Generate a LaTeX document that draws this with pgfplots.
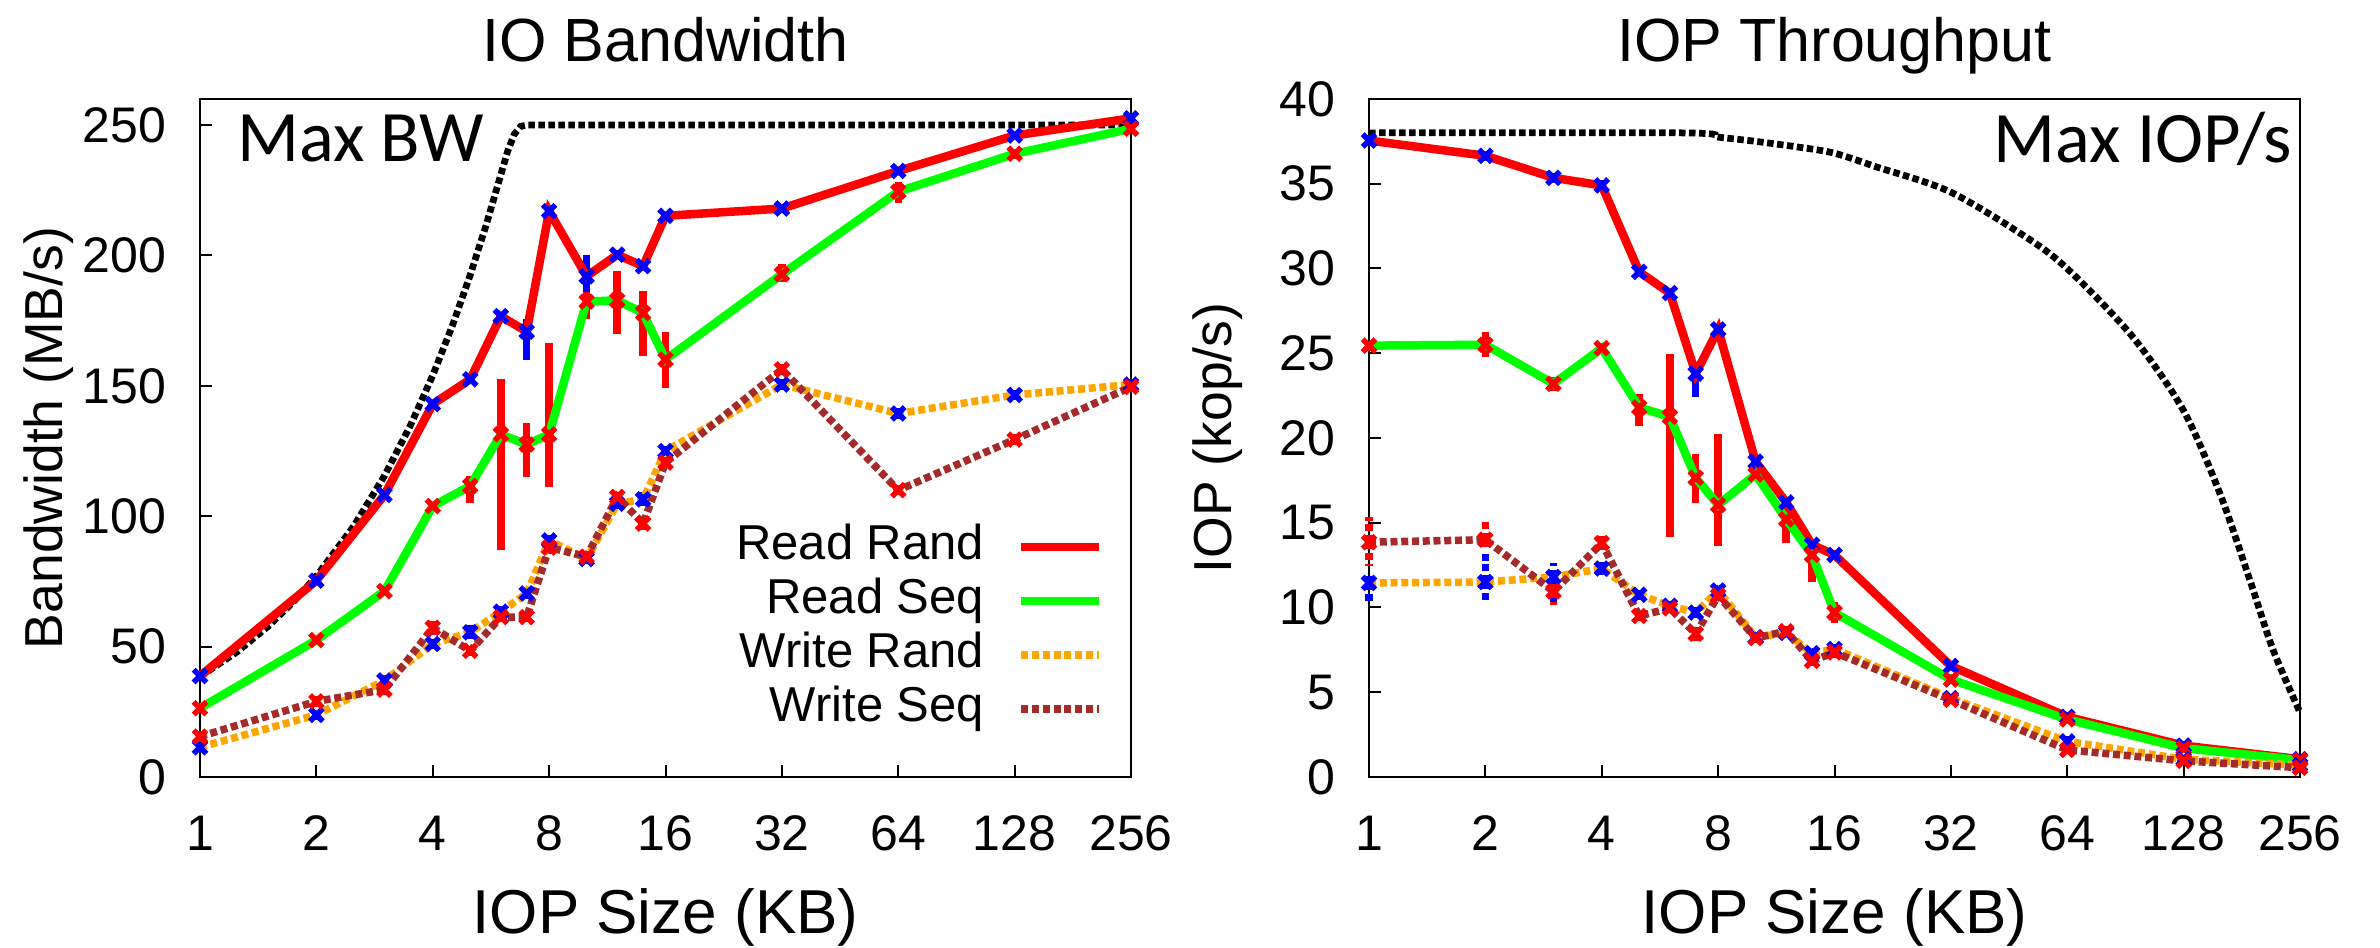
\documentclass[border=0pt]{standalone}
\usepackage{fontspec}
\setmainfont{Liberation Sans}
\newfontfamily\gillfont{Carlito}
\usepackage{pgfplots}
\usepackage{pgfplotstable}
\pgfplotsset{compat=1.18}

\definecolor{wrand}{RGB}{255,165,0}
\definecolor{wseq}{RGB}{165,42,42}

% Bandwidth (MB/s): value, error plus, error minus for each series
\pgfplotstableread{
x   rr    rrp  rrm   rs    rsp  rsm   wr    wrp  wrm   ws    wsp  wsm
1   38.7  1    1     26.4  1    1     11.4  1.5  1.5   15.5  2    2
2   75.3  1    1     52.5  1    1     23.8  2    2     29.0  2    2
3   108.2 1.5  1.5   71.3  1    1     37.0  2    2     33.5  2    2
4   143.0 1.5  1.5   103.9 1.5  1.5   51.0  2    2     57.2  2.5  3
5   152.5 1.5  1.5   111.6 3.7  6.6   55.5  3    3.5   48.4  2    2
6   176.7 1.5  1.5   131.4 21.3 44.4  63.4  2    2     61.3  2    2
7   170.8 4.7  10.7  127.5 8.3  12.5  70.4  2    2     61.3  2    2
8   217.0 1.5  1.5   131.4 35   20    90.7  2    2     88.0  2    2
10  192.0 8    16.5  182.3 3.5  6.7   83.6  2    2     84.5  2    2
12  200.3 1.5  1.5   182.8 11.2 13.1  104.8 2    2     107.4 2    2
14  195.9 2    2     177.9 8.5  16.5  106.5 3    3     97.2  2.5  2.5
16  215.2 1.5  1.5   160.1 10.5 10.9  125.0 2    2     120.6 2    2
32  218.0 1.5  1.5   192.8 4    3     150.5 2    2     156.3 2    2
64  232.4 1.5  1.5   224.5 3.5  4.5   139.4 2    2     110.0 2    2
128 246.0 1.5  1.5   239.0 2    2     146.5 2    2     129.4 2    2
256 252.6 1.5  1.5   248.6 1.5  1.5   150.5 2    2     149.6 2    2
}\bwdata

% Throughput (kop/s)
\pgfplotstableread{
x   rr    rrp  rrm   rs    rsp  rsm   wr    wrp  wrm   ws    wsp  wsm
1   37.55 0.3  0.3   25.45 0.3  0.3   11.45 0.6  1.1   13.85 1.5  1.4
2   36.65 0.3  0.3   25.5  0.75 0.75  11.5  1.7  1.1   14.0  1.1  0.5
3   35.35 0.3  0.3   23.2  0.4  0.4   11.8  0.8  1.6   10.95 0.6  0.8
4   34.9  0.3  0.3   25.3  0.3  0.3   12.3  0.4  0.4   13.8  0.4  0.4
5   29.8  0.3  0.3   21.8  0.8  1.1   10.75 0.3  0.3   9.5   0.3  0.3
6   28.55 0.3  0.3   21.25 3.7  7.1   10.1  0.3  0.3   9.95  0.3  0.3
7   23.8  0.5  1.4   17.65 1.4  1.5   9.7   0.3  0.3   8.45  0.4  0.4
8   26.4  0.3  0.3   16.05 4.2  2.4   11.0  0.3  0.3   10.7  0.3  0.3
10  18.6  0.4  0.6   17.85 0.3  0.3   8.25  0.3  0.3   8.2   0.3  0.3
12  16.2  0.3  0.3   15.2  0.9  1.4   8.5   0.3  0.3   8.6   0.3  0.3
14  13.7  0.3  0.3   13.1  0.3  1.6   7.3   0.3  0.3   6.85  0.3  0.3
16  13.1  0.3  0.3   9.7   0.65 0.6   7.55  0.3  0.3   7.35  0.3  0.3
32  6.55  0.2  0.2   5.75  0.35 0.2   4.65  0.2  0.2   4.55  0.2  0.2
64  3.55  0.2  0.2   3.4   0.2  0.2   2.1   0.3  0.3   1.6   0.2  0.2
128 1.85  0.2  0.2   1.7   0.2  0.2   1.05  0.2  0.2   0.95  0.2  0.2
256 1.05  0.1  0.1   1.0   0.1  0.1   0.7   0.1  0.1   0.55  0.1  0.1
}\iopdata

% Device limits
\pgfplotstableread{
x    y
1    38.5
1.25 48.1
1.5  57.75
1.75 67.4
2    77
2.5  96.25
3    115.5
3.5  134.75
4    154
4.5  173.25
5    192.5
5.5  211.75
6    231
6.25 240
6.5  246.5
6.75 249.5
7    250
256  250
}\maxbw

\pgfplotstableread{
x    y
1    38
6.5  38
8    37.75
10   37.5
13   37.15
16   36.8
20.5 36.0
32   34.5
52   31.6
66   29.7
95   25.9
128  21.6
159  16.7
190  11.6
218  7.5
256  3.8
}\maxiop

\tikzset{
  rrline/.style={red, line width=1.7bp, mark=none},
  rsline/.style={green, line width=1.7bp, mark=none},
  wrline/.style={wrand, line width=1.5bp, mark=none, dash pattern=on 1.4bp off 0.75bp},
  wsline/.style={wseq, line width=1.5bp, mark=none, dash pattern=on 1.4bp off 0.75bp},
  limline/.style={black, line width=1.35bp, mark=none, dash pattern=on 1.3bp off 0.7bp},
  ttl/.style={anchor=base, inner sep=0pt, font=\fontsize{12.2bp}{14bp}\selectfont},
  xlab/.style={anchor=base, inner sep=0pt, font=\fontsize{12.4bp}{14bp}\selectfont},
  ylab/.style={rotate=90, anchor=base, inner sep=0pt, font=\fontsize{10.7bp}{13bp}\selectfont},
  maxlab/.style={inner sep=0pt, font=\gillfont\fontsize{14.5bp}{16bp}\selectfont},
}

% error bars with cross marks, drawn below each line
% #1 colour, #2 column, #3 table, #4 bar dash style
\newcommand\errplot[4]{%
  \addplot[only marks, forget plot, mark=x, mark size=1.8bp,
    mark options={#1, line width=1.1bp, solid},
    error bars/.cd, y dir=both, y explicit, error mark=none,
    error bar style={#1, line width=1.5bp, #4}]
    table[x=x, y=#2, y error plus=#2p, y error minus=#2m] {#3};%
}

\begin{document}
\begin{tikzpicture}
\useasboundingbox (0,0) rectangle (476bp,189.6bp);

% Left panel: bandwidth
\begin{axis}[
  at={(40bp,34.2bp)}, anchor=south west,
  scale only axis, width=186.2bp, height=135.6bp,
  xmode=log, log basis x=2, xmin=1, xmax=256, ymin=0, ymax=260,
  xtick={1,2,4,8,16,32,64,128,256},
  xticklabels={1,2,4,8,16,32,64,128,256},
  ytick={0,50,100,150,200,250},
  xtick pos=left, ytick pos=left, tick align=inside,
  major tick length=2.4bp,
  tick style={black, line width=0.4bp},
  axis line style={line width=0.55bp},
  clip=false,
  tick label style={font=\fontsize{10bp}{12bp}\selectfont},
  /pgf/number format/assume math mode=true,
  xticklabel style={anchor=base, inner sep=0pt, yshift=-14.6bp},
  yticklabel style={anchor=east, inner sep=0pt, xshift=-6.6bp},
  legend cell align=right, legend plot pos=right,
  legend image code/.code={\draw[#1] (0bp,0bp) -- (15.6bp,0bp);},
  legend style={at={(axis description cs:0.9705,0.3754)}, anchor=north east,
    draw=none, fill=none, inner sep=0pt, outer sep=0pt,
    font=\fontsize{9.8bp}{11bp}\selectfont, row sep=1bp, column sep=6.6bp,
    nodes={inner sep=0pt, text height=7.5bp, text depth=2.3bp}},
]
\addplot[limline, forget plot] table[x=x, y=y] {\maxbw};

\errplot{blue}{rr}{\bwdata}{solid}
\addplot[rrline] table[x=x, y=rr] {\bwdata};
\addlegendentry{Read Rand}
\errplot{red}{rs}{\bwdata}{solid}
\addplot[rsline] table[x=x, y=rs] {\bwdata};
\addlegendentry{Read Seq}
\errplot{blue}{wr}{\bwdata}{dash pattern=on 1.4bp off 0.75bp}
\addplot[wrline] table[x=x, y=wr] {\bwdata};
\addlegendentry{Write Rand}
\errplot{red}{ws}{\bwdata}{dash pattern=on 1.4bp off 0.75bp}
\addplot[wsline] table[x=x, y=ws] {\bwdata};
\addlegendentry{Write Seq}

\node[ttl] at (axis description cs:0.5,1.0546) {IO Bandwidth};
\node[xlab] at (axis description cs:0.5,-0.2301) {IOP Size (KB)};
\node[ylab] at (axis description cs:-0.1472,0.5) {Bandwidth (MB/s)};
\node[maxlab, anchor=base west] at (axis description cs:0.0387,0.9075) {Max BW};
\end{axis}

% Right panel: throughput
\begin{axis}[
  at={(273.8bp,34.2bp)}, anchor=south west,
  scale only axis, width=186.2bp, height=135.6bp,
  xmode=log, log basis x=2, xmin=1, xmax=256, ymin=0, ymax=40,
  xtick={1,2,4,8,16,32,64,128,256},
  xticklabels={1,2,4,8,16,32,64,128,256},
  ytick={0,5,10,15,20,25,30,35,40},
  xtick pos=left, ytick pos=left, tick align=inside,
  major tick length=2.4bp,
  tick style={black, line width=0.4bp},
  axis line style={line width=0.55bp},
  clip=false,
  tick label style={font=\fontsize{10bp}{12bp}\selectfont},
  /pgf/number format/assume math mode=true,
  xticklabel style={anchor=base, inner sep=0pt, yshift=-14.6bp},
  yticklabel style={anchor=east, inner sep=0pt, xshift=-6.6bp},
]
\addplot[limline, smooth, forget plot] table[x=x, y=y] {\maxiop};

\errplot{blue}{rr}{\iopdata}{solid}
\addplot[rrline] table[x=x, y=rr] {\iopdata};
\errplot{red}{rs}{\iopdata}{solid}
\addplot[rsline] table[x=x, y=rs] {\iopdata};
\errplot{blue}{wr}{\iopdata}{dash pattern=on 1.4bp off 0.75bp}
\addplot[wrline] table[x=x, y=wr] {\iopdata};
\errplot{red}{ws}{\iopdata}{dash pattern=on 1.4bp off 0.75bp}
\addplot[wsline] table[x=x, y=ws] {\iopdata};

\node[ttl] at (axis description cs:0.5,1.0546) {IOP Throughput};
\node[xlab] at (axis description cs:0.5,-0.2301) {IOP Size (KB)};
\node[ylab] at (axis description cs:-0.1472,0.5) {IOP (kop/s)};
\node[maxlab, anchor=base east] at (axis description cs:0.9925,0.9063) {Max IOP/s};
\end{axis}
\end{tikzpicture}
\end{document}
